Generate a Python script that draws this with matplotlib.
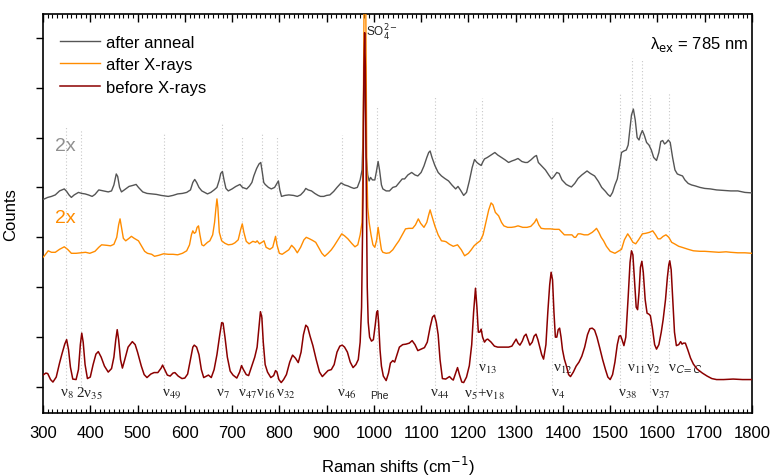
import matplotlib
matplotlib.use("Agg")
import matplotlib.pyplot as plt
from matplotlib.ticker import MultipleLocator

plt.rcParams['font.family'] = ['Liberation Sans', 'DejaVu Sans']

# ---------------- data ----------------
before_x = [300, 306, 310, 316, 321, 328, 335, 340, 346, 350, 354, 358, 363, 370, 375, 379, 382, 385, 389, 394,
            400, 406, 412, 417, 423, 430, 438, 445, 450, 454, 457, 460, 464, 468, 473, 480, 489, 495, 500, 508,
            514, 520, 528, 535, 543, 550, 553, 557, 563, 569, 575, 579, 586, 594, 600, 606, 612, 617, 620, 625,
            630, 635, 640, 646, 650, 656, 662, 668, 674, 678, 681, 685, 690, 696, 702, 710, 716, 720, 724, 730,
            735, 741, 748, 753, 757, 760, 763, 766, 770, 775, 782, 788, 792, 795, 799, 804, 809, 815, 822, 828,
            834, 840, 846, 851, 856, 860, 865, 871, 878, 885, 891, 897, 903, 910, 916, 922, 928, 933, 938, 944,
            950, 956, 962, 967, 971, 974, 977, 979, 980.5, 982, 984, 986, 988, 991, 995, 999, 1003, 1006, 1008, 1010,
            1013, 1016, 1020, 1026, 1031, 1035, 1040, 1044, 1048, 1054, 1061, 1068, 1075, 1081, 1087, 1093, 1100, 1107, 1113, 1119,
            1124, 1128, 1132, 1136, 1140, 1145, 1152, 1160, 1165, 1168, 1172, 1177, 1181, 1186, 1190, 1196, 1202, 1207, 1211, 1215,
            1218, 1221, 1224, 1227, 1230, 1234, 1238, 1241, 1248, 1255, 1262, 1273, 1285, 1292, 1297, 1301, 1305, 1309, 1314, 1318,
            1322, 1326, 1330, 1335, 1339, 1343, 1347, 1351, 1355, 1359, 1364, 1368, 1372, 1375, 1378, 1381, 1384, 1387, 1390, 1393,
            1396, 1399, 1403, 1408, 1412, 1416, 1422, 1428, 1434, 1440, 1446, 1452, 1457, 1462, 1467, 1472, 1478, 1484, 1490, 1495,
            1500, 1505, 1510, 1515, 1519, 1522, 1525, 1529, 1533, 1538, 1542, 1545, 1548, 1551, 1555, 1558, 1561, 1564, 1567, 1570,
            1574, 1578, 1582, 1585, 1589, 1594, 1598, 1603, 1608, 1612, 1617, 1621, 1624, 1626, 1629, 1632, 1636, 1640, 1645, 1649,
            1652, 1655, 1659, 1664, 1670, 1676, 1684, 1695, 1705, 1715, 1725, 1740, 1760, 1780, 1800]
before_y = [0.24, 0.28, 0.27, 0.15, 0.10, 0.20, 0.48, 0.66, 0.86, 0.95, 0.75, 0.40, 0.16, 0.15, 0.35, 0.85, 1.08, 0.90, 0.45, 0.17,
            0.20, 0.45, 0.66, 0.71, 0.60, 0.42, 0.30, 0.37, 0.60, 0.95, 1.15, 0.95, 0.55, 0.38, 0.55, 0.80, 0.91, 0.85, 0.70, 0.42,
            0.25, 0.19, 0.26, 0.29, 0.29, 0.38, 0.44, 0.36, 0.24, 0.22, 0.28, 0.29, 0.22, 0.17, 0.18, 0.26, 0.55, 0.80, 0.84, 0.80,
            0.65, 0.35, 0.19, 0.22, 0.24, 0.19, 0.35, 0.65, 1.05, 1.29, 1.28, 1.00, 0.60, 0.32, 0.24, 0.18, 0.30, 0.43, 0.35, 0.25,
            0.23, 0.40, 0.60, 0.80, 1.20, 1.51, 1.40, 0.90, 0.45, 0.30, 0.19, 0.23, 0.33, 0.30, 0.15, 0.09, 0.15, 0.25, 0.50, 0.64,
            0.58, 0.49, 0.70, 1.05, 1.24, 1.20, 1.02, 0.83, 0.55, 0.30, 0.21, 0.27, 0.33, 0.35, 0.45, 0.70, 0.82, 0.84, 0.80, 0.70,
            0.50, 0.39, 0.45, 0.55, 0.90, 1.60, 3.80, 6.40, 7.10, 6.40, 4.00, 2.00, 1.30, 1.00, 0.92, 0.95, 1.25, 1.50, 1.53, 1.30,
            0.75, 0.42, 0.22, 0.13, 0.28, 0.48, 0.53, 0.50, 0.62, 0.80, 0.85, 0.86, 0.88, 0.93, 0.85, 0.73, 0.76, 0.79, 0.90, 1.20,
            1.40, 1.44, 1.30, 1.05, 0.55, 0.17, 0.16, 0.21, 0.16, 0.14, 0.25, 0.39, 0.25, 0.10, 0.09, 0.20, 0.43, 0.85, 1.50, 1.98,
            1.60, 1.10, 1.10, 1.16, 1.00, 0.90, 0.95, 0.96, 0.90, 0.82, 0.80, 0.80, 0.80, 0.82, 0.90, 0.96, 0.88, 0.84, 0.92, 1.02,
            1.06, 0.95, 0.84, 0.90, 1.02, 1.06, 0.95, 0.80, 0.65, 0.56, 0.85, 1.50, 2.05, 2.30, 2.15, 1.50, 1.00, 1.00, 1.15, 1.18,
            1.00, 0.75, 0.56, 0.40, 0.25, 0.21, 0.30, 0.42, 0.50, 0.62, 0.80, 1.05, 1.17, 1.18, 1.14, 1.00, 0.78, 0.55, 0.35, 0.20,
            0.15, 0.25, 0.50, 0.85, 1.02, 1.03, 0.95, 0.83, 1.00, 1.80, 2.50, 2.73, 2.65, 2.20, 1.60, 1.55, 1.90, 2.40, 2.52, 2.30,
            1.75, 1.48, 1.46, 1.43, 1.20, 0.85, 0.76, 0.85, 1.10, 1.35, 1.75, 2.20, 2.45, 2.53, 2.35, 1.80, 1.10, 0.83, 0.85, 0.91,
            0.86, 0.88, 0.88, 0.75, 0.58, 0.46, 0.36, 0.28, 0.22, 0.17, 0.15, 0.15, 0.16, 0.15, 0.15]

xray_x = [300, 303, 311, 318, 326, 335, 345, 352, 360, 370, 380, 390, 399, 410, 418, 424, 435, 443, 450, 456,
          460, 463, 466, 470, 475, 482, 487, 493, 502, 510, 515, 521, 530, 536, 545, 555, 565, 575, 585, 595,
          604, 610, 614, 617, 620, 623, 626, 629, 632, 636, 640, 648, 653, 659, 663, 666, 668, 670, 673, 678,
          685, 692, 700, 706, 713, 718, 721.6, 725, 730, 736, 744, 750, 753, 758, 763, 767.5, 772, 780, 786, 790,
          792, 795, 800, 806, 814, 820, 826, 832, 838, 845, 852, 857, 864, 870, 877, 884, 890, 896, 903, 910,
          916, 924, 932, 938, 945, 953, 960, 966, 971, 975, 977, 979, 981, 983, 985, 987, 990, 994, 998, 1002,
          1006, 1009, 1012, 1016, 1019, 1026, 1033, 1040, 1047, 1053, 1060, 1067, 1074, 1082, 1088, 1094, 1099, 1106, 1112, 1116,
          1119, 1122, 1129, 1136, 1143, 1150, 1153, 1160, 1168, 1177, 1185, 1192, 1200, 1206, 1212, 1218, 1225, 1231, 1237, 1243,
          1248, 1252, 1257, 1264, 1270, 1275, 1283, 1291, 1298, 1305, 1315, 1324, 1332, 1340, 1344, 1349, 1354, 1362, 1373, 1383,
          1392, 1398, 1403, 1410, 1419, 1424, 1427, 1432, 1437, 1445, 1453, 1462, 1468, 1471, 1476, 1481, 1486, 1492, 1500, 1510,
          1517, 1524, 1530, 1537, 1542, 1548, 1554, 1560, 1568, 1575, 1583, 1590, 1596, 1601, 1606, 1612, 1618, 1624, 1630, 1636,
          1645, 1652, 1665, 1676, 1690, 1700, 1715, 1730, 1745, 1755, 1770, 1785, 1800]
xray_y = [2.60, 2.63, 2.73, 2.70, 2.70, 2.76, 2.81, 2.76, 2.68, 2.68, 2.69, 2.70, 2.68, 2.72, 2.80, 2.85, 2.84, 2.83, 2.86, 3.00,
          3.25, 3.37, 3.20, 2.98, 2.93, 2.98, 3.02, 2.98, 2.93, 2.80, 2.72, 2.68, 2.66, 2.62, 2.64, 2.67, 2.66, 2.66, 2.65, 2.68,
          2.73, 2.85, 3.05, 3.13, 3.08, 3.10, 3.20, 3.23, 3.05, 2.85, 2.83, 2.90, 2.93, 3.05, 3.30, 3.60, 3.77, 3.60, 3.10, 2.93,
          2.88, 2.85, 2.86, 2.89, 2.95, 3.15, 3.27, 3.10, 2.92, 2.87, 2.92, 2.90, 2.93, 2.87, 2.90, 2.93, 2.80, 2.76, 2.80, 2.95,
          3.02, 2.85, 2.68, 2.66, 2.71, 2.75, 2.84, 2.78, 2.69, 2.80, 2.95, 3.00, 2.97, 2.94, 2.90, 2.78, 2.68, 2.62, 2.68, 2.75,
          2.83, 2.95, 3.07, 3.03, 2.97, 2.88, 2.81, 2.85, 3.05, 3.30, 4.50, 7.50, 9.50, 7.50, 4.50, 3.60, 3.30, 3.05, 2.85, 2.80,
          2.95, 3.20, 3.00, 2.75, 2.70, 2.68, 2.69, 2.75, 2.85, 2.93, 3.05, 3.17, 3.18, 3.18, 3.25, 3.37, 3.28, 3.20, 3.30, 3.45,
          3.55, 3.45, 3.23, 3.05, 2.93, 2.92, 2.91, 2.86, 2.82, 2.85, 2.75, 2.63, 2.68, 2.75, 2.83, 2.88, 2.93, 3.05, 3.30, 3.55,
          3.69, 3.65, 3.50, 3.43, 3.30, 3.23, 3.20, 3.20, 3.21, 3.23, 3.20, 3.20, 3.22, 3.30, 3.37, 3.25, 3.18, 3.17, 3.17, 3.16,
          3.16, 3.10, 3.05, 3.05, 3.05, 3.00, 3.00, 3.07, 3.07, 3.05, 3.05, 3.10, 3.15, 3.18, 3.10, 3.00, 2.93, 2.82, 2.72, 2.68,
          2.72, 2.76, 2.95, 3.07, 3.00, 2.90, 2.87, 2.95, 3.07, 3.08, 3.10, 3.13, 3.05, 2.97, 2.97, 3.02, 3.05, 3.00, 2.90, 2.87,
          2.82, 2.80, 2.76, 2.73, 2.72, 2.72, 2.71, 2.70, 2.71, 2.70, 2.69, 2.69, 2.68]

anneal_x = [300, 303, 310, 318, 326, 335, 345, 350, 355, 360, 366, 375, 382, 389, 396, 404, 410, 418, 428, 438,
            445, 450, 455, 458, 462, 466, 472, 482, 490, 497, 502, 511, 520, 531, 540, 550, 558, 565, 575, 585,
            595, 604, 612, 617, 621, 625, 630, 636, 642, 648, 655, 662, 668, 673, 676, 679.6, 683, 687, 692, 700,
            708, 716.7, 722, 731, 737, 742, 746, 752, 757, 760.7, 764, 767, 770, 777, 783, 790, 795, 798, 801, 804.6,
            812, 820, 830, 838, 845, 852, 856, 861, 868, 875, 882, 887, 894, 900, 907, 915, 922, 930.6, 938, 945,
            952, 958, 965, 971, 975, 977, 979.5, 982, 984, 987, 990, 993, 997, 1002, 1005, 1009, 1012, 1016, 1019, 1026,
            1033, 1040, 1047, 1054, 1060, 1065, 1072, 1080, 1087, 1093, 1100, 1106, 1112, 1116, 1119, 1123, 1129, 1136, 1143, 1150,
            1158, 1165, 1173, 1178, 1183, 1190, 1196, 1202, 1208, 1213, 1218, 1222, 1227, 1231, 1234, 1240, 1248, 1256, 1262, 1270,
            1278, 1285, 1292, 1298, 1305, 1313, 1320, 1325, 1332, 1340, 1344, 1348, 1354, 1360, 1363, 1370, 1376, 1381, 1387, 1392,
            1398, 1407, 1413, 1418, 1425, 1432, 1440, 1447, 1451, 1458, 1467, 1475, 1482, 1490, 1495, 1500, 1505, 1510, 1515, 1520,
            1524, 1529, 1534, 1538, 1542, 1545, 1549, 1553, 1557, 1561, 1564, 1568, 1572, 1577, 1582, 1587, 1592, 1598, 1603, 1607,
            1611, 1615, 1619, 1623, 1627, 1632, 1637, 1642, 1647, 1653, 1658, 1665, 1672, 1680, 1690, 1700, 1712, 1725, 1740, 1755,
            1770, 1785, 1800]
anneal_y = [3.76, 3.77, 3.80, 3.82, 3.85, 3.93, 3.97, 3.92, 3.85, 3.80, 3.85, 3.90, 3.88, 3.87, 3.85, 3.82, 3.86, 3.95, 3.93, 3.91,
            3.93, 4.05, 4.27, 4.22, 4.00, 3.91, 3.95, 4.02, 4.04, 4.06, 4.00, 3.91, 3.88, 3.87, 3.86, 3.84, 3.83, 3.82, 3.84, 3.87,
            3.88, 3.90, 3.95, 4.10, 4.16, 4.10, 4.00, 3.93, 3.90, 3.87, 3.90, 3.95, 4.00, 4.15, 4.28, 4.32, 4.15, 3.98, 3.93, 3.97,
            4.02, 4.06, 4.00, 3.97, 4.03, 4.10, 4.23, 4.38, 4.47, 4.50, 4.30, 4.10, 4.06, 4.00, 3.97, 4.00, 4.08, 4.13, 3.95, 3.82,
            3.84, 3.85, 3.84, 3.82, 3.85, 3.92, 3.98, 3.95, 3.93, 3.88, 3.84, 3.82, 3.82, 3.84, 3.85, 3.92, 4.00, 4.09, 4.05, 4.03,
            4.00, 3.98, 4.00, 4.15, 4.35, 5.00, 6.77, 5.60, 4.60, 4.25, 4.13, 4.20, 4.15, 4.15, 4.30, 4.52, 4.35, 4.05, 3.97, 3.93,
            3.93, 4.00, 4.02, 4.10, 4.17, 4.17, 4.25, 4.30, 4.25, 4.23, 4.30, 4.43, 4.60, 4.70, 4.73, 4.60, 4.44, 4.30, 4.23, 4.18,
            4.13, 4.05, 3.97, 4.02, 3.95, 3.84, 3.90, 4.13, 4.40, 4.56, 4.50, 4.47, 4.44, 4.52, 4.57, 4.60, 4.65, 4.70, 4.65, 4.60,
            4.55, 4.50, 4.53, 4.55, 4.58, 4.52, 4.50, 4.50, 4.55, 4.62, 4.64, 4.50, 4.44, 4.38, 4.35, 4.25, 4.17, 4.22, 4.30, 4.28,
            4.15, 4.06, 4.03, 4.01, 4.08, 4.18, 4.25, 4.30, 4.33, 4.28, 4.23, 4.12, 4.00, 3.92, 3.86, 3.82, 3.90, 4.05, 4.17, 4.45,
            4.70, 4.73, 4.75, 4.85, 5.20, 5.45, 5.57, 5.35, 5.00, 4.95, 5.05, 5.14, 5.05, 4.90, 4.85, 4.75, 4.60, 4.54, 4.70, 4.92,
            4.94, 4.87, 4.90, 4.95, 4.90, 4.60, 4.35, 4.27, 4.25, 4.23, 4.15, 4.08, 4.05, 4.03, 4.00, 3.98, 3.97, 3.95, 3.94, 3.93,
            3.93, 3.90, 3.89]

series_labels = ['after anneal', 'after X-rays', 'before X-rays']
series_colors = ['#555555', '#FF8C00', '#8B0000']

# band markers: dotted guide positions with their top and bottom
band_pos = [348, 381, 555, 679, 721, 763, 795, 933, 1006, 1129, 1216, 1229, 1376, 1521, 1547, 1568, 1585, 1624]
band_top = [5.23, 5.17, 5.11, 5.27, 5.03, 5.11, 5.03, 5.05, 5.63, 5.83, 5.6, 5.8, 5.4, 5.9, 6.6, 6.55, 5.85, 5.9]
band_bottom = [-0.1, -0.1, -0.1, -0.1, -0.1, -0.1, -0.1, -0.1, -0.1, -0.1, -0.1, 0.45, -0.1, -0.1, 0.45, 0.45, -0.1, 0.45]

label_texts = ['ν$_{8}$', '2ν$_{35}$', 'ν$_{49}$', 'ν$_{7}$', 'ν$_{47}$', 'ν$_{16}$',
               'ν$_{32}$', 'ν$_{46}$', 'ν$_{44}$', 'ν$_{5}$+ν$_{18}$', 'ν$_{13}$',
               'ν$_{12}$', 'ν$_{4}$', 'ν$_{38}$', 'ν$_{11}$', 'ν$_{2}$', 'ν$_{37}$',
               'ν$_{\\mathsf{C{=}C}}$']
label_x = [336, 370, 551, 665, 712, 750, 793, 921, 1118, 1190, 1221, 1378, 1375, 1517, 1535, 1576, 1587, 1623]
label_y = [-0.12, -0.12, -0.12, -0.12, -0.12, -0.12, -0.12, -0.12, -0.12, -0.12, 0.38,
           0.38, -0.12, -0.12, 0.38, 0.38, -0.12, 0.38]

# ---------------- figure ----------------
fig = plt.figure(figsize=(7.74, 4.77), dpi=100)
ax = fig.add_axes([43 / 774, 1 - 414 / 477, (752 - 43) / 774, (414 - 15) / 477])

for p, t, b in zip(band_pos, band_top, band_bottom):
    ax.plot([p, p], [b, t], color='#c8c8c8', lw=0.8, ls=(0, (1, 2)), zorder=1)

ax.plot(anneal_x, anneal_y, color=series_colors[0], lw=1.0, label=series_labels[0], zorder=3)
ax.plot(xray_x, xray_y, color=series_colors[1], lw=1.0, label=series_labels[1], zorder=4)
ax.plot(before_x, before_y, color=series_colors[2], lw=1.1, label=series_labels[2], zorder=5)

for t, lx, ly in zip(label_texts, label_x, label_y):
    ax.text(lx, ly, t, fontsize=11, family=['Liberation Serif', 'DejaVu Serif'], math_fontfamily='stix',
            ha='left', va='center', color='#222222')
ax.text(993, -0.16, 'Phe', fontsize=7.5, ha='left', va='center', color='#222222')

ax.text(983, 7.12, r'SO$_4^{2-}$', fontsize=8.5, ha='left', va='center', color='#222222')
ax.text(0.995, 0.925, 'λ$_{\\rm ex}$ = 785 nm', transform=ax.transAxes, fontsize=12,
        ha='right', va='center', math_fontfamily='dejavusans')

ax.text(325, 4.85, '2x', fontsize=14, color='#909090', ha='left', va='center')
ax.text(325, 3.4, '2x', fontsize=14, color='#FF8C00', ha='left', va='center')

ax.set_xlim(300, 1800)
ax.set_ylim(-0.52, 7.475)
ax.xaxis.set_major_locator(MultipleLocator(100))
ax.xaxis.set_minor_locator(MultipleLocator(10))
ax.yaxis.set_major_locator(MultipleLocator(1))
ax.set_yticklabels([])
ax.tick_params(axis='x', which='major', direction='in', length=6, width=1, top=True, labelsize=12, pad=9)
ax.tick_params(axis='x', which='minor', direction='in', length=3, width=0.8, top=True)
ax.tick_params(axis='y', which='major', direction='out', length=5, width=1, left=True, right=False)
for s in ax.spines.values():
    s.set_linewidth(1.2)

ax.set_xlabel(r'Raman shifts (cm$^{-1}$)', fontsize=12, labelpad=10)
ax.set_ylabel('Counts', fontsize=12)
ax.yaxis.set_label_coords(-0.035, 0.5)

leg = ax.legend(loc='upper left', bbox_to_anchor=(0.0, 0.99), frameon=False, fontsize=12,
                handlelength=2.4, handletextpad=0.35, labelspacing=0.45, borderaxespad=0.6)

fig.savefig('out.png', dpi=100)
